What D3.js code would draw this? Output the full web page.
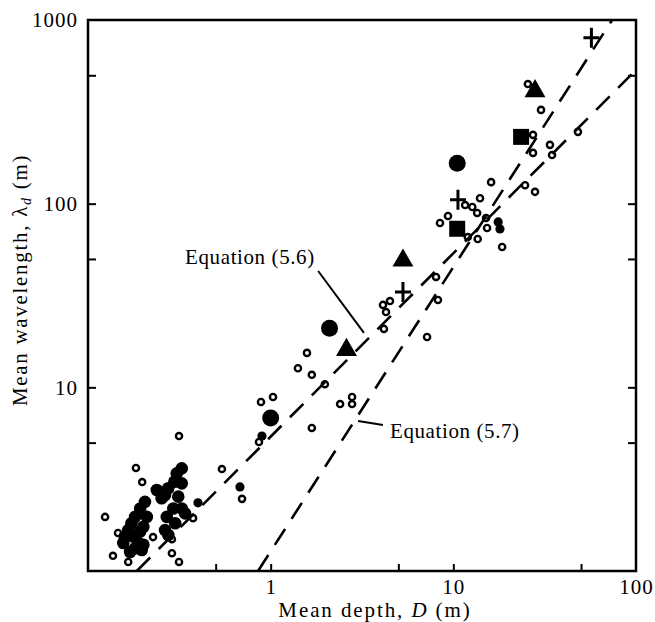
<!DOCTYPE html>
<html><head><meta charset="utf-8">
<script src="https://cdn.jsdelivr.net/npm/d3@7"></script>
<style>
body{margin:0;background:#fff}
text{font-family:"Liberation Serif","Times New Roman",serif;fill:#000}
</style>
</head><body>
<svg id="chart" width="655" height="622"></svg>
<script>
// ---- tick values / labels ----
const xTickLabels = [1, 10, 100];
const xTickMarks = [0.5, 1, 5, 10, 50];
const yTickLabels = [10, 100, 1000];
const yTickMarks = [5, 10, 50, 100, 500];

// ---- data: mean depth D (m), mean wavelength λd (m) ----
const ringD = [0.124,0.146,0.137,0.166,0.183,0.198,0.315,0.288,0.315,0.227,0.288,0.376,0.541,0.697,0.863,0.885,1.03,1.41,1.58,1.68,1.98,1.68,2.40,2.79,2.79,4.12,4.50,4.28,4.17,8.04,8.24,7.18,16.1,24.7,28.0,14.0,11.6,12.7,13.5,9.35,8.45,15.1,15.3,12.0,13.6,18.5,27.3,30.2,27.3,33.8,34.7,48.1,25.6];
const ringL = [1.97,1.61,1.21,1.12,3.64,3.05,5.43,1.25,1.12,1.53,1.49,1.94,3.59,2.47,5.04,8.32,8.86,12.7,15.4,11.7,10.4,6.01,8.11,8.86,8.11,28.1,29.5,25.7,20.8,39.9,29.9,18.8,131,126,116,107,98.3,95.9,89.0,85.7,78.5,83.6,73.7,65.8,64.2,58.1,237,324,189,209,184,246,448];

const clusterD = [0.326,0.306,0.297,0.326,0.275,0.312,0.264,0.326,0.293,0.340,0.270,0.300,0.264,0.275,0.238,0.253,0.205,0.193,0.181,0.210,0.173,0.201,0.166,0.193,0.177,0.189,0.156,0.201,0.181,0.170,0.197,0.159];
const clusterL = [3.62,3.40,3.06,3.00,2.82,2.54,2.59,2.19,2.19,2.06,1.97,1.82,1.67,1.57,2.76,2.49,2.38,2.19,1.97,1.97,1.82,1.74,1.67,1.64,1.54,1.42,1.42,1.39,1.33,1.27,1.30,1.54];

const smallDotD = [0.896,0.679,0.400,17.6,18.0];
const smallDotL = [5.43,2.87,2.35,79.5,72.8];

const bigDotD = [1.0, 2.1, 10.5];
const bigDotL = [6.8, 21, 166];

const triD = [2.6, 5.3, 28];
const triL = [16, 49, 410];

const sqD = [10.5, 23.5];
const sqL = [73, 231];

const plusD = [5.3, 10.6, 57];
const plusL = [33, 105, 800];

// equation lines (end points, D, λd)
const eq56D = [0.185, 100];
const eq56L = [1, 535];
const eq57D = [0.853, 74];
const eq57L = [1, 1000];

// annotation anchors (D, λd)
const ann56Text = "Equation (5.6)";
const ann56At = [0.340, 46.9];
const ann56Leader = [[1.82, 43.0], [3.24, 19.8]];
const ann57Text = "Equation (5.7)";
const ann57At = [4.50, 5.30];
const ann57Leader = [[3.01, 6.56], [4.12, 6.24]];

// ---- drawing ----
const svg = d3.select("#chart");
const x = d3.scaleLog().domain([0.1, 100]).range([88, 636]);
const y = d3.scaleLog().domain([1, 1000]).range([571, 20]);
const zip = (a, b) => a.map((v, i) => [v, b[i]]);

svg.append("defs").append("clipPath").attr("id", "clip")
  .append("rect").attr("x", x(0.1)).attr("y", y(1000))
  .attr("width", x(100) - x(0.1)).attr("height", y(1) - y(1000));

const line = d3.line().x(d => x(d[0])).y(d => y(d[1]));
const plot = svg.append("g").attr("clip-path", "url(#clip)");

[[eq56D, eq56L], [eq57D, eq57L]].forEach(([dd, ll]) => {
  plot.append("path").datum(zip(dd, ll)).attr("d", line)
    .attr("fill", "none").attr("stroke", "#000")
    .attr("stroke-width", 2.6).attr("stroke-dasharray", "19,12");
});

// open rings
plot.selectAll(".ring").data(zip(ringD, ringL)).join("circle")
  .attr("cx", d => x(d[0])).attr("cy", d => y(d[1])).attr("r", 3.1)
  .attr("fill", "none").attr("stroke", "#000").attr("stroke-width", 2.4);

// filled cluster
plot.selectAll(".cl").data(zip(clusterD, clusterL)).join("circle")
  .attr("cx", d => x(d[0])).attr("cy", d => y(d[1])).attr("r", 6.3).attr("fill", "#000");

plot.selectAll(".sd").data(zip(smallDotD, smallDotL)).join("circle")
  .attr("cx", d => x(d[0])).attr("cy", d => y(d[1])).attr("r", 4.6).attr("fill", "#000");

plot.selectAll(".bd").data(zip(bigDotD, bigDotL)).join("circle")
  .attr("cx", d => x(d[0])).attr("cy", d => y(d[1])).attr("r", 8.5).attr("fill", "#000");

plot.selectAll(".tri").data(zip(triD, triL)).join("path")
  .attr("d", d3.symbol(d3.symbolTriangle, 190))
  .attr("transform", d => `translate(${x(d[0])},${y(d[1])})`).attr("fill", "#000");

plot.selectAll(".sq").data(zip(sqD, sqL)).join("path")
  .attr("d", d3.symbol(d3.symbolSquare, 256))
  .attr("transform", d => `translate(${x(d[0])},${y(d[1])})`).attr("fill", "#000");

plot.selectAll(".pl").data(zip(plusD, plusL)).join("path")
  .attr("d", "M-8,0H8M0,-10V10")
  .attr("transform", d => `translate(${x(d[0])},${y(d[1])})`)
  .attr("stroke", "#000").attr("stroke-width", 3).attr("fill", "none");

// frame
svg.append("rect").attr("x", x(0.1)).attr("y", y(1000))
  .attr("width", x(100) - x(0.1)).attr("height", y(1) - y(1000))
  .attr("fill", "none").attr("stroke", "#000").attr("stroke-width", 2.5);

// inward tick marks
const tickStyle = g => { g.select(".domain").remove(); g.selectAll("line").attr("stroke", "#000").attr("stroke-width", 2); g.selectAll("text").remove(); };
svg.append("g").attr("transform", `translate(0,${y(1)})`)
  .call(d3.axisBottom(x).tickValues(xTickMarks).tickSize(-7).tickFormat("")).call(tickStyle);
svg.append("g").attr("transform", `translate(${x(0.1)},0)`)
  .call(d3.axisLeft(y).tickValues(yTickMarks).tickSize(-8).tickFormat("")).call(tickStyle);
svg.append("g").attr("transform", `translate(${x(100)},0)`)
  .call(d3.axisRight(y).tickValues(yTickMarks).tickSize(-8).tickFormat("")).call(tickStyle);

// tick labels
const labStyle = g => { g.select(".domain").remove(); g.selectAll("line").remove();
  g.selectAll("text").attr("font-family", '"Liberation Serif","Times New Roman",serif')
   .attr("font-size", 21).attr("fill", "#000").style("letter-spacing", "1px"); };
svg.append("g").attr("transform", `translate(0,${y(1)})`)
  .call(d3.axisBottom(x).tickValues(xTickLabels).tickSize(0).tickPadding(8).tickFormat(d3.format("d")))
  .call(labStyle);
svg.append("g").attr("transform", `translate(${x(0.1)},0)`)
  .call(d3.axisLeft(y).tickValues(yTickLabels).tickSize(0).tickPadding(10).tickFormat(d3.format("d")))
  .call(labStyle);

// axis titles
const xt = svg.append("text").attr("x", 375).attr("y", 617).attr("text-anchor", "middle")
  .attr("font-size", 21).style("letter-spacing", "1.9px");
xt.append("tspan").text("Mean depth, ");
xt.append("tspan").attr("font-style", "italic").text("D");
xt.append("tspan").text(" (m)");

const yt = svg.append("text").attr("transform", "translate(27,280) rotate(-90)")
  .attr("text-anchor", "middle").attr("font-size", 21).style("letter-spacing", "1.7px");
yt.append("tspan").text("Mean wavelength, λ");
yt.append("tspan").attr("font-style", "italic").attr("font-size", 14).attr("dy", 4).text("d");
yt.append("tspan").attr("dy", -4).text(" (m)");

// annotations
[[ann56Text, ann56At, ann56Leader], [ann57Text, ann57At, ann57Leader]].forEach(([t, at, ld]) => {
  svg.append("text").attr("x", x(at[0])).attr("y", y(at[1]))
    .attr("font-size", 21).style("letter-spacing", "0.6px").text(t);
  svg.append("path").datum(ld).attr("d", line)
    .attr("stroke", "#000").attr("stroke-width", 2).attr("fill", "none");
});
</script>
</body></html>
